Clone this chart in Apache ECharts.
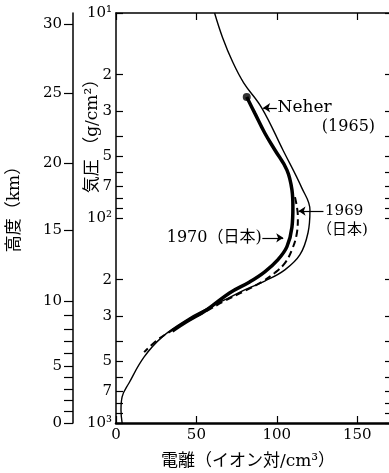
<!DOCTYPE html>
<html>
<head>
<meta charset="utf-8">
<script src="https://cdn.jsdelivr.net/npm/echarts@6/dist/echarts.min.js"></script>
<style>
html, body { margin: 0; padding: 0; background: #fff; }
#main { width: 389px; height: 473px; }
</style>
</head>
<body>
<div id="main"></div>
<script>
// 気圧の目盛 (g/cm2)
var pressureTicks = [10, 20, 30, 40, 50, 60, 70, 80, 90, 100, 200, 300, 400, 500, 600, 700, 800, 900, 1000];
var pressureLabelVals = [10, 20, 30, 50, 70, 100, 200, 300, 500, 700, 1000];
var pressureLabels = ['10¹', '2', '3', '5', '7', '10²', '2', '3', '5', '7', '10³'];

// 高度 (km) と対応する気圧
var altKm = [0, 1, 2, 3, 4, 5, 6, 7, 8, 9, 10, 15, 20, 25, 30];
var altP = [1000, 879, 773, 683, 600, 527, 458, 400, 348, 297, 254, 115, 53.9, 24.5, 11.3];
var altLabelKm = [0, 5, 10, 15, 20, 25, 30];

// Neher (1965)
var neherIon = [61.3, 66.3, 72.5, 79.4, 90.6, 103.8, 115.6, 120.6, 119.4, 114.4, 105, 92.5, 80, 67.5, 55, 45.6, 28.8, 17.5, 8.1, 3.8, 3.1, 3.8];
var neherP = [10, 13.2, 17.3, 21.9, 29.0, 46.6, 71.5, 91.4, 118, 151, 179, 203, 224, 251, 281, 308, 380, 476, 638, 746, 865, 1000];

// 1970 (日本)
var jp1970Ion = [81.3, 86.3, 92.5, 98.8, 106.3, 109.4, 110, 109.4, 106.3, 100.6, 92.5, 83.1, 70.6, 56.3, 43.8, 35];
var jp1970P = [25.7, 30.8, 38.5, 46.6, 58.4, 72.9, 88.3, 111, 138, 160, 183, 205, 232, 281, 321, 356];

// 1969 (日本)
var jp1969Ion = [111.3, 113.1, 112.5, 109.4, 105, 98.8, 90.6, 80, 67.5, 55, 42.5, 33.1, 25.6, 17.5];
var jp1969P = [79.1, 98.9, 118, 143, 166, 185, 205, 227, 254, 288, 325, 360, 394, 451];

var serif = '"DejaVu Serif", "Noto Sans CJK JP", serif';
var lg = Math.log10;

function pts(xs, ps) {
    return xs.map(function (x, i) { return [x, lg(ps[i])]; });
}
function lookup(v, vals, labels) {
    for (var i = 0; i < vals.length; i++) {
        if (Math.abs(lg(vals[i]) - v) < 1e-6) return String(labels[i]);
    }
    return '';
}
var altLabelP = altLabelKm.map(function (k) { return altP[altKm.indexOf(k)]; });

var myChart = echarts.init(document.getElementById('main'));

var axisLineStyle = { color: '#000', width: 1.5 };
var tickStyle = { color: '#000', width: 1.2 };

myChart.setOption({
    animation: false,
    backgroundColor: '#fff',
    grid: { left: 116, right: -2, top: 13, bottom: 50, containLabel: false, outerBoundsMode: 'none' },
    xAxis: [{
        type: 'value', position: 'bottom', min: 0, max: 171, interval: 50,
        axisLine: { show: true, onZero: false, lineStyle: { color: '#000', width: 2.5 } },
        axisTick: { show: true, inside: true, length: 7, lineStyle: tickStyle },
        axisLabel: { show: true, margin: 5, color: '#000', fontFamily: serif, fontSize: 15, showMaxLabel: false },
        splitLine: { show: false }
    }, {
        type: 'value', position: 'top', min: 0, max: 171, interval: 50,
        axisLine: { show: true, onZero: false, lineStyle: axisLineStyle },
        axisTick: { show: true, inside: true, length: 7, lineStyle: tickStyle },
        axisLabel: { show: false },
        splitLine: { show: false }
    }],
    yAxis: [{
        // 気圧 (対数)
        type: 'value', position: 'left', min: 1, max: 3, inverse: true,
        axisLine: { show: true, onZero: false, lineStyle: axisLineStyle },
        axisTick: { show: true, inside: true, length: 7, customValues: pressureTicks.map(lg), lineStyle: tickStyle },
        axisLabel: {
            show: true, margin: 4, color: '#000', fontFamily: serif, fontSize: 15,
            customValues: pressureLabelVals.map(lg),
            formatter: function (v) { return lookup(v, pressureLabelVals, pressureLabels); }
        },
        splitLine: { show: false }
    }, {
        // 高度
        type: 'value', position: 'left', offset: 43, min: 1, max: 3, inverse: true,
        axisLine: { show: true, onZero: false, lineStyle: axisLineStyle },
        axisTick: { show: true, inside: false, length: 9, customValues: altP.map(lg), lineStyle: tickStyle },
        axisLabel: {
            show: true, margin: 11, color: '#000', fontFamily: serif, fontSize: 15,
            customValues: altLabelP.map(lg),
            formatter: function (v) { return lookup(v, altLabelP, altLabelKm); }
        },
        splitLine: { show: false }
    }, {
        type: 'value', position: 'right', min: 1, max: 3, inverse: true,
        axisLine: { show: true, onZero: false, lineStyle: axisLineStyle },
        axisTick: { show: true, inside: true, length: 6, customValues: pressureTicks.map(lg), lineStyle: tickStyle },
        axisLabel: { show: false },
        splitLine: { show: false }
    }],
    series: [{
        name: 'Neher (1965)', type: 'line', smooth: 0.4, symbol: 'none',
        data: pts(neherIon, neherP),
        lineStyle: { color: '#000', width: 1.4 },
        markLine: {
            silent: true, symbol: ['arrow', 'none'], symbolSize: 7,
            label: { show: false },
            lineStyle: { color: '#000', width: 1.2, type: 'solid' },
            data: [
                [{ coord: [91.5, lg(29.0)] }, { coord: [100, lg(29.0)] }],
                [{ coord: [113.5, lg(92.5)] }, { coord: [129, lg(92.5)] }],
                [{ coord: [104, lg(125)] }, { coord: [91, lg(125)] }]
            ]
        }
    }, {
        name: '1970 (日本)', type: 'line', smooth: 0.4, symbol: 'none',
        data: pts(jp1970Ion, jp1970P),
        lineStyle: { color: '#000', width: 3.5 }
    }, {
        name: '1969 (日本)', type: 'line', smooth: 0.4, symbol: 'none',
        data: pts(jp1969Ion, jp1969P),
        lineStyle: { color: '#000', width: 2, type: [7, 4] }
    }, {
        type: 'scatter', symbol: 'circle', symbolSize: 8,
        data: [[jp1970Ion[0], lg(jp1970P[0])]],
        itemStyle: { color: '#000' }
    }]
});

// 注記
function at(ion, p) { return myChart.convertToPixel({ gridIndex: 0 }, [ion, lg(p)]); }
function note(ion, p, text, align, size) {
    var xy = at(ion, p);
    return {
        type: 'text', x: xy[0], y: xy[1], silent: true,
        style: { text: text, align: align, verticalAlign: 'middle', fill: '#000', font: size + 'px ' + serif }
    };
}
myChart.setOption({
    graphic: [
        note(100.5, 29.0, 'Neher', 'left', 17),
        note(128, 36.0, '(1965)', 'left', 16),
        note(130, 92.5, '1969', 'left', 15),
        note(125, 115, '（日本)', 'left', 15),
        note(90.6, 125, '1970（日本)', 'right', 16),
        {
            type: 'text', x: 93, y: 132, rotation: Math.PI / 2, silent: true,
            style: { text: '気圧 （g/cm²）', align: 'center', verticalAlign: 'middle', fill: '#000', font: '17px ' + serif }
        },
        {
            type: 'text', x: 15, y: 205, rotation: Math.PI / 2, silent: true,
            style: { text: '高度（km）', align: 'center', verticalAlign: 'middle', fill: '#000', font: '17px ' + serif }
        },
        {
            type: 'text', x: 248, y: 462, silent: true,
            style: { text: '電離（イオン対/cm³）', align: 'center', verticalAlign: 'middle', fill: '#000', font: '17px ' + serif }
        }
    ]
});
</script>
</body>
</html>
